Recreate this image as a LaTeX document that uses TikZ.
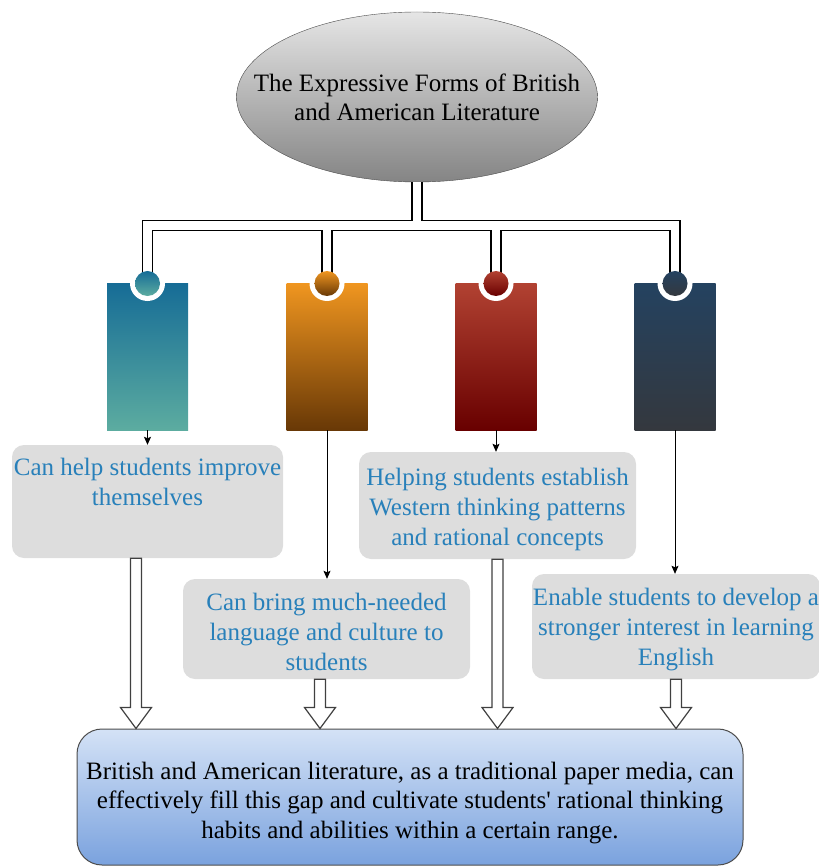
\documentclass[tikz,border=0pt]{standalone}
\usepackage{fontspec}
\setmainfont{Liberation Serif}
\usetikzlibrary{shapes.geometric,calc,arrows.meta}
\definecolor{tlt}{RGB}{22,108,150}
\definecolor{tlb}{RGB}{92,172,160}
\definecolor{ort}{RGB}{240,150,32}
\definecolor{orb}{RGB}{104,56,6}
\definecolor{rdt}{RGB}{178,66,50}
\definecolor{rdb}{RGB}{104,0,0}
\definecolor{slt}{RGB}{36,66,96}
\definecolor{slb}{RGB}{52,56,62}
\definecolor{txb}{RGB}{40,128,186}
\definecolor{bxg}{RGB}{221,221,221}
\definecolor{bgt}{RGB}{212,226,246}
\definecolor{bgb}{RGB}{122,162,222}
\tikzset{
    blk/.style={rectangle,inner sep=0pt,minimum width=81pt,minimum height=147pt},
    dot/.style={circle,inner sep=0pt,minimum size=25pt},
    tree/.style={line width=1.3pt,double=white,double distance=8.7pt},
    thin/.style={black,line width=0.8pt,-{Stealth[length=8pt,width=7pt,inset=1.5pt]}},
    hollow/.style={draw=black!75,fill=white,line width=1.2pt},
    gbox/.style={fill=bxg,rounded corners=12pt,inner sep=0pt,align=center,text=txb,
        font=\fontsize{25}{30}\selectfont}
}
\newcommand{\blockarrow}[2]{%
    \draw[hollow] let \p1=(#1), \p2=(#2) in
        (\x1-5.5pt,\y1) -- (\x1-5.5pt,\y2+21pt) -- (\x1-15.5pt,\y2+21pt)
        -- (\x1,\y2) -- (\x1+15.5pt,\y2+21pt) -- (\x1+5.5pt,\y2+21pt)
        -- (\x1+5.5pt,\y1) -- cycle;}
\newcommand{\lift}[1]{\rule{0pt}{#1}}
\begin{document}
\begin{tikzpicture}[x=1pt,y=-1pt]
    \useasboundingbox (0,0) rectangle (818,866);
    % title
    \node [ellipse,inner sep=0pt,minimum width=361pt,minimum height=170pt,
        draw=black!70,top color=black!10,bottom color=black!48] (title) at (417,97) {};
    \node [align=center,font=\fontsize{25}{29}\selectfont] (titletext) at (title)
        {The Expressive Forms of British\\and American Literature};
    % coloured blocks
    \foreach \i/\x/\ct/\cb in {1/147.5/tlt/tlb,2/327/ort/orb,3/496/rdt/rdb,4/675/slt/slb} {
        \node [blk,top color=\ct,bottom color=\cb] (blk\i) at (\x,356.5) {};
        \fill [white] (\x,283.5) circle (17.5pt);
    }
    \coordinate (bar) at (417,225.5);
    \draw [tree] (title.south) -- (title.south |- bar)
        (blk1.north) |- (bar) -| (blk4.north)
        (blk2.north) -- (blk2.north |- bar)
        (blk3.north) -- (blk3.north |- bar);
    \foreach \i/\x/\ct/\cb in {1/147.5/tlt/tlb,2/327/ort/orb,3/496/rdt/rdb,4/675/slt/slb} {
        \node [dot,top color=\ct,bottom color=\cb] (dot\i) at (\x,283.5) {};
    }
    % grey boxes
    \node [gbox,minimum width=271pt,minimum height=113pt] (ta) at (147.5,501.5)
        {Can help students improve\\themselves\\\phantom{x}\rule[-9pt]{0pt}{9pt}};
    \node [gbox,minimum width=287pt,minimum height=100pt] (tb) at (326.5,629)
        {\lift{24pt}Can bring much-needed\\language and culture to\\students};
    \node [gbox,minimum width=277pt,minimum height=107pt] (tc) at (497.5,505.5)
        {\lift{25pt}Helping students establish\\Western thinking patterns\\and rational concepts};
    \node [gbox,minimum width=288pt,minimum height=105pt] (td) at (676,626.5)
        {\lift{23pt}Enable students to develop a\\stronger interest in learning\\English};
    \draw [thin] (blk1.south) -- (blk1.south |- ta.north);
    \draw [thin] (blk2.south) -- (blk2.south |- tb.north);
    \draw [thin] (blk3.south) -- (blk3.south |- tc.north);
    \draw [thin] (blk4.south) -- (blk4.south |- td.north);
    % bottom box
    \node [rectangle,rounded corners=25pt,draw=black!70,line width=1pt,
        top color=bgt,bottom color=bgb,inner sep=0pt,minimum width=666pt,
        minimum height=136pt,align=center,font=\fontsize{25}{29.5}\selectfont] (bot) at (410,797)
        {\lift{29pt}British and American literature, as a traditional paper media, can\\
        effectively fill this gap and cultivate students\textquotesingle\ rational thinking\\
        habits and abilities within a certain range.};
    \blockarrow{[xshift=-11.5pt]ta.south}{bot.north}
    \blockarrow{[xshift=-6.5pt]tb.south}{bot.north}
    \blockarrow{tc.south}{bot.north}
    \blockarrow{td.south}{bot.north}
\end{tikzpicture}
\end{document}
